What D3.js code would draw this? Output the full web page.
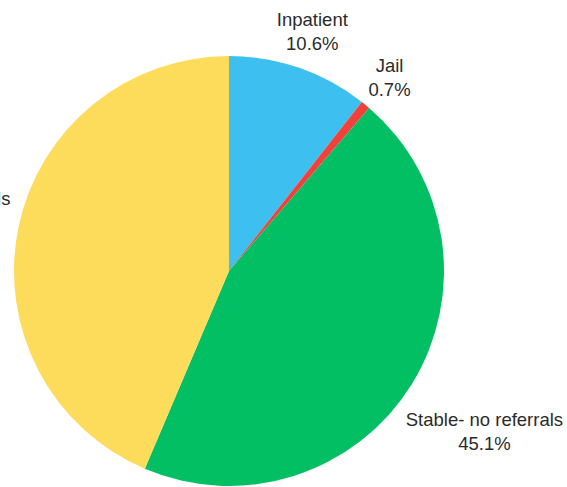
<!DOCTYPE html>
<html>
<head>
<meta charset="utf-8">
<script src="https://cdn.jsdelivr.net/npm/d3@7"></script>
<style>
html, body { margin: 0; padding: 0; background: #fff; }
svg { display: block; }
</style>
</head>
<body>
<svg id="chart" width="567" height="487"></svg>
<script>
const categories = ["Inpatient", "Jail", "Stable- no referrals", "Stable- with referrals"];
const values = [10.6, 0.7, 45.1, 43.6];
const colors = ["#3dbfef", "#f2413a", "#03bf63", "#fddb5b"];

const svg = d3.select("#chart");
const cx = 229, cy = 271, R = 215;
const g = svg.append("g").attr("transform", `translate(${cx},${cy})`);

const data = categories.map((c, i) => ({ name: c, value: values[i], color: colors[i] }));
const pie = d3.pie().value(d => d.value).sort(null);
const arc = d3.arc().innerRadius(0).outerRadius(R);
const arcs = pie(data);

g.selectAll("path.slice").data(arcs).join("path")
  .attr("class", "slice")
  .attr("d", arc)
  .attr("fill", d => d.data.color);

const labels = g.selectAll("g.lbl").data(arcs).join("g").attr("class", "lbl");
labels.each(function(d) {
  const sel = d3.select(this);
  const t = sel.append("text")
    .attr("text-anchor", "middle")
    .attr("font-family", "'Liberation Sans', Arial, sans-serif")
    .attr("font-size", 18.5)
    .attr("fill", "#2b2b2b");
  t.append("tspan").attr("x", 0).attr("dy", "-0.25em").text(d.data.name);
  t.append("tspan").attr("x", 0).attr("dy", "1.3em").text(d3.format(".1f")(d.value) + "%");
  const bb = t.node().getBBox();
  const hw = bb.width / 2, hh = bb.height / 2;
  const a = (d.startAngle + d.endAngle) / 2;
  const s = Math.sin(a), c = -Math.cos(a);
  const dist = R + 7 + hw * Math.abs(s) + hh * Math.abs(c);
  const x = dist * s, y = dist * c;
  const bcy = bb.y + hh;
  sel.attr("transform", `translate(${x},${y - bcy + 1.5})`);
});
</script>
</body>
</html>
